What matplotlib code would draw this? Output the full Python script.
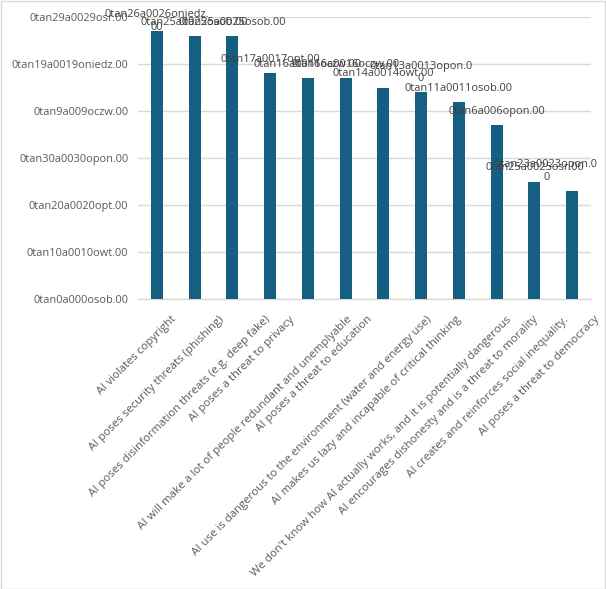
import matplotlib
matplotlib.use("Agg")
import matplotlib.pyplot as plt
from matplotlib.patches import Rectangle

categories = [
    "AI violates copyright",
    "AI poses security threats (phishing)",
    "AI poses disinformation threats (e.g. deep fake)",
    "AI poses a threat to privacy",
    "AI will make a lot of people redundant and unemplyable",
    "AI poses a threat to education",
    "AI use is dangerous to the environment (water and energy use)",
    "AI makes us lazy and incapable of critical thinking",
    "We don't know how AI actually works, and it is potentially dangerous",
    "AI encourages dishonesty and is a threat to morality",
    "AI creates and reinforces social inequality.",
    "AI poses a threat to democracy",
]
values = [57, 56, 56, 48, 47, 47, 45, 44, 42, 37, 25, 23]
value_labels = [
    "0tan26a0026oniedz.\n00",
    "0tan25a0025osob.00",
    "0tan25a0025osob.00",
    "0tan17a0017opt.00",
    "0tan16a0016oczw.00",
    "0tan16a0016oczw.00",
    "0tan14a0014owt.00",
    "0tan13a0013opon.0\n0",
    "0tan11a0011osob.00",
    "0tan6a006opon.00",
    "0tan25a0025osr.00",
    "0tan23a0023opon.0\n0",
]
y_ticks = [0, 10, 20, 30, 40, 50, 60]
y_tick_labels = [
    "0tan0a000osob.00",
    "0tan10a0010owt.00",
    "0tan20a0020opt.00",
    "0tan30a0030opon.00",
    "0tan9a009oczw.00",
    "0tan19a0019oniedz.00",
    "0tan29a0029osr.00",
]

# label placement tweaks (pixels): (dx, dy of bottom of label above bar top)
label_offsets = {0: (0, -2), 11: (-26, 8)}

FONT = "Open Sans"
FS = 7.9
FS_X = 8.2
BAR = "#156082"
GRID = "#d9d9d9"
TICK = "#595959"
LAB = "#404040"

fig = plt.figure(figsize=(6.06, 5.89), dpi=100)
ax = fig.add_axes([138 / 606, 1 - 299 / 589, (591 - 138) / 606, (299 - 17) / 589])

x = list(range(len(categories)))
ax.bar(x, values, width=0.32, color=BAR, zorder=3)
ax.set_xlim(-0.5, len(categories) - 0.5)
ax.set_ylim(0, 60)
ax.set_yticks(y_ticks)
ax.set_yticklabels(y_tick_labels, fontfamily=FONT, fontsize=FS, color=TICK)
ax.tick_params(axis="y", length=0, pad=7)
ax.set_xticks(x)
ax.set_xticklabels([])
ax.tick_params(axis="x", length=0)
ax.grid(axis="y", color=GRID, linewidth=1, zorder=0)
for s in ["left", "right", "top"]:
    ax.spines[s].set_visible(False)
ax.spines["bottom"].set_color(GRID)
ax.spines["bottom"].set_linewidth(1)

for i, (v, lab) in enumerate(zip(values, value_labels)):
    dx, dy = label_offsets.get(i, (0, 8))
    ax.annotate(lab, xy=(i, v), xytext=(dx, dy), textcoords="offset pixels",
                ha="center", va="bottom", multialignment="center",
                fontfamily=FONT, fontsize=FS, color=LAB, zorder=4,
                annotation_clip=False)

renderer = fig.canvas.get_renderer()
xt = ax.get_xaxis_transform()
for i, cat in enumerate(categories):
    t = ax.annotate(cat, xy=(i, 0), xycoords=xt, xytext=(0, -15),
                    textcoords="offset pixels", ha="right", va="top",
                    fontfamily=FONT, fontsize=FS_X, color=TICK,
                    annotation_clip=False)
    w = t.get_window_extent(renderer).width
    t.set_rotation(45)
    t.set_rotation_mode("anchor")
    t.xyann = (0.13 * w, -15)

fig.patches.append(Rectangle((0.5 / 606, 0.5 / 589), 1 - 1.5 / 606, 1 - 1.5 / 589,
                             transform=fig.transFigure, fill=False,
                             edgecolor=GRID, linewidth=1))

fig.savefig("out.png", dpi=100)
